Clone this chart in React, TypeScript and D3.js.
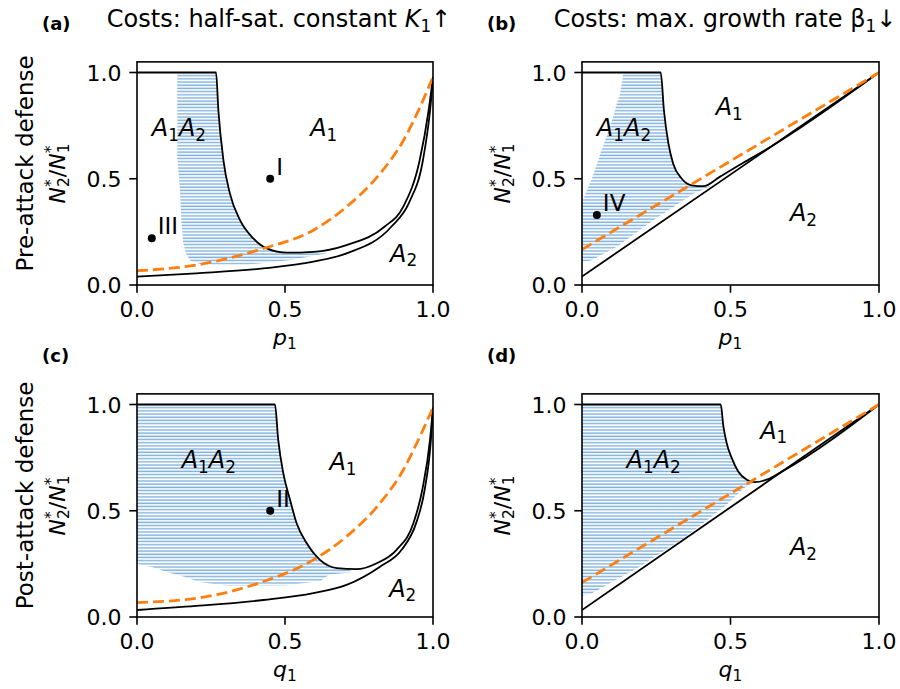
import React from 'react';
import * as d3 from 'd3';

type Pt = [number, number];

// (a) pre-attack defense, cost in half-saturation constant K1
const upperA: Pt[] = [[0, 1], [0.267, 1], [0.275, 0.82], [0.292, 0.587], [0.314, 0.43], [0.348, 0.305], [0.393, 0.219], [0.438, 0.172], [0.506, 0.152], [0.596, 0.156], [0.708, 0.188], [0.836, 0.274], [0.9, 0.37], [0.955, 0.587], [0.985, 0.82], [1, 0.98]];
const lowerA: Pt[] = [[0, 0.039], [0.2, 0.055], [0.427, 0.078], [0.596, 0.11], [0.708, 0.149], [0.859, 0.274], [0.92, 0.39], [0.966, 0.587], [0.99, 0.82], [1, 0.97]];
const orangeA: Pt[] = [[0, 0.067], [0.2, 0.094], [0.427, 0.172], [0.596, 0.258], [0.708, 0.368], [0.821, 0.524], [0.9, 0.68], [0.956, 0.837], [1, 0.98]];
const regionA: Pt[] = [[0.136, 1], [0.267, 1], [0.275, 0.82], [0.292, 0.587], [0.314, 0.43], [0.348, 0.305], [0.393, 0.219], [0.438, 0.172], [0.506, 0.155], [0.6, 0.158], [0.64, 0.156], [0.64, 0.148], [0.596, 0.138], [0.52, 0.118], [0.375, 0.096], [0.218, 0.096], [0.18, 0.115], [0.165, 0.15], [0.156, 0.2], [0.15, 0.3], [0.145, 0.45], [0.136, 0.6]];

// (b) pre-attack defense, cost in max growth rate beta1
const upperB: Pt[] = [[0, 1], [0.265, 1], [0.276, 0.82], [0.291, 0.665], [0.307, 0.571], [0.336, 0.5], [0.369, 0.469], [0.408, 0.465], [0.465, 0.51], [0.543, 0.575], [0.62, 0.637], [1, 1]];
const lowerB: Pt[] = [[0, 0.04], [1, 1]];
const orangeB: Pt[] = [[0, 0.167], [1, 1]];
const regionB: Pt[] = [[0.14, 1], [0.265, 1], [0.276, 0.82], [0.291, 0.665], [0.307, 0.571], [0.336, 0.5], [0.369, 0.469], [0.408, 0.462], [0.44, 0.47], [0.375, 0.43], [0.24, 0.305], [0.117, 0.18], [0.03, 0.115], [0, 0.11], [0, 0.39], [0.033, 0.5], [0.066, 0.634], [0.094, 0.743], [0.128, 0.9]];

// (c) post-attack defense, cost in K1
const upperC: Pt[] = [[0, 1], [0.466, 1], [0.477, 0.835], [0.494, 0.678], [0.517, 0.552], [0.539, 0.442], [0.573, 0.348], [0.618, 0.269], [0.675, 0.23], [0.742, 0.225], [0.81, 0.253], [0.877, 0.316], [0.934, 0.442], [0.964, 0.6], [0.99, 0.835], [1, 0.985]];
const lowerC: Pt[] = [[0, 0.033], [0.2, 0.052], [0.427, 0.08], [0.596, 0.112], [0.708, 0.151], [0.821, 0.237], [0.894, 0.316], [0.945, 0.45], [0.972, 0.6], [0.993, 0.835], [1, 0.985]];
const orangeC: Pt[] = [[0, 0.068], [0.2, 0.088], [0.427, 0.167], [0.596, 0.269], [0.708, 0.379], [0.821, 0.536], [0.9, 0.693], [0.956, 0.85], [1, 0.985]];
const regionC: Pt[] = [[0, 1], [0.466, 1], [0.477, 0.835], [0.494, 0.678], [0.517, 0.552], [0.539, 0.442], [0.573, 0.348], [0.618, 0.269], [0.675, 0.23], [0.72, 0.225], [0.72, 0.21], [0.65, 0.2], [0.62, 0.17], [0.5, 0.148], [0.3, 0.148], [0.21, 0.165], [0.16, 0.19], [0.1, 0.212], [0.05, 0.235], [0, 0.25]];

// (d) post-attack defense, cost in beta1
const upperD: Pt[] = [[0, 1], [0.467, 1], [0.476, 0.898], [0.487, 0.819], [0.504, 0.749], [0.526, 0.685], [0.555, 0.646], [0.582, 0.635], [0.622, 0.646], [0.68, 0.69], [1, 1]];
const lowerD: Pt[] = [[0, 0.033], [1, 1]];
const orangeD: Pt[] = [[0, 0.162], [1, 1]];
const regionD: Pt[] = [[0, 1], [0.467, 1], [0.476, 0.898], [0.487, 0.819], [0.504, 0.749], [0.526, 0.685], [0.555, 0.646], [0.582, 0.635], [0.55, 0.612], [0.48, 0.52], [0.341, 0.37], [0.184, 0.228], [0.03, 0.11], [0, 0.1]];

const ticks = [0, 0.5, 1];

// region labels: [x, y, text]  (A1A2 / A1 / A2)
const regionLabelsA: [number, number, string][] = [[0.05, 0.7, '12'], [0.585, 0.7, '1'], [0.855, 0.11, '2']];
const regionLabelsB: [number, number, string][] = [[0.05, 0.7, '12'], [0.45, 0.8, '1'], [0.7, 0.3, '2']];
const regionLabelsC: [number, number, string][] = [[0.151, 0.7, '12'], [0.65, 0.69, '1'], [0.852, 0.096, '2']];
const regionLabelsD: [number, number, string][] = [[0.15, 0.7, '12'], [0.6, 0.84, '1'], [0.7, 0.29, '2']];

// example points
const pointsA: [number, number, string][] = [[0.45, 0.5, 'I'], [0.05, 0.22, 'III']];
const pointsB: [number, number, string][] = [[0.05, 0.33, 'IV']];
const pointsC: [number, number, string][] = [[0.45, 0.5, 'II']];
const pointsD: [number, number, string][] = [];

const FONT = "'DejaVu Sans', sans-serif";

type Part = { t: string; it?: boolean; sub?: boolean; sup?: boolean; back?: number };

function MathText({ parts, size }: { parts: Part[]; size: number }) {
  let cur = 0;
  return (
    <>
      {parts.map((p, i) => {
        const target = p.sub ? 0.2 * size : p.sup ? -0.4 * size : 0;
        const dy = target - cur;
        cur = target;
        return (
          <tspan
            key={i}
            dy={dy}
            dx={p.back ? -p.back : 0}
            fontStyle={p.it ? 'italic' : 'normal'}
            fontSize={p.sub || p.sup ? size * 0.7 : size}
          >
            {p.t}
          </tspan>
        );
      })}
    </>
  );
}

const yLabelParts: Part[] = [
  { t: 'N', it: true },
  { t: '*', sup: true },
  { t: '2', sub: true, back: 7.7 },
  { t: '/' },
  { t: 'N', it: true },
  { t: '*', sup: true },
  { t: '1', sub: true, back: 7.7 },
];

function regionParts(code: string): Part[] {
  return code.split('').flatMap(c => [{ t: 'A', it: true }, { t: c, sub: true }]);
}

interface PanelProps {
  id: string;
  left: number;
  right: number;
  bottom: number;
  upper: Pt[];
  lower: Pt[];
  orange: Pt[];
  region: Pt[];
  regionLabels: [number, number, string][];
  points: [number, number, string][];
  xVar: string;
  tag: string;
  title?: Part[];
  titleX: number;
  rowLabel?: string;
}

const Panel: React.FC<PanelProps> = p => {
  const x = d3.scaleLinear().domain([0, 1]).range([p.left, p.right]);
  const y = d3.scaleLinear().domain([0, 1]).range([p.bottom, p.bottom - 212.5]);
  const top = y(1.05);
  const line = d3.line<Pt>().x(d => x(d[0])).y(d => y(d[1])).curve(d3.curveMonotoneX);
  const straight = d3.line<Pt>().x(d => x(d[0])).y(d => y(d[1])).curve(d3.curveLinearClosed);
  const rowStep = y(0) - y(0.015);
  const midY = (top + p.bottom) / 2;
  return (
    <g>
      <defs>
        <clipPath id={`clip-${p.id}`}>
          <rect x={p.left} y={top} width={p.right - p.left} height={p.bottom - top} />
        </clipPath>
        <pattern id={`dots-${p.id}`} patternUnits="userSpaceOnUse" x={p.left} y={y(0)} width={2} height={rowStep}>
          <circle cx={1} cy={1} r={0.9} fill="#5f9dd3" />
        </pattern>
      </defs>
      <g clipPath={`url(#clip-${p.id})`}>
        <path d={straight(p.region) ?? ''} fill={`url(#dots-${p.id})`} />
        <path d={line(p.lower) ?? ''} fill="none" stroke="#000" strokeWidth={1.8} />
        <path d={line(p.upper) ?? ''} fill="none" stroke="#000" strokeWidth={1.8} />
        <path d={line(p.orange) ?? ''} fill="none" stroke="#ff7f0e" strokeWidth={2.8} strokeDasharray="11,5" />
      </g>
      {p.points.map(([px, py, name]) => (
        <g key={name}>
          <circle cx={x(px)} cy={y(py)} r={4} fill="#000" />
          <text x={x(px) + 6} y={y(py) - 4} fontSize={23} fontFamily={FONT}>{name}</text>
        </g>
      ))}
      {p.regionLabels.map(([lx, ly, code]) => (
        <text key={code} x={x(lx)} y={y(ly)} fontSize={24} fontFamily={FONT}>
          <MathText parts={regionParts(code)} size={24} />
        </text>
      ))}
      <rect x={p.left} y={top} width={p.right - p.left} height={p.bottom - top} fill="none" stroke="#000" strokeWidth={1.6} />
      {ticks.map(t => (
        <g key={`y${t}`}>
          <line x1={p.left - 7.7} x2={p.left} y1={y(t)} y2={y(t)} stroke="#000" strokeWidth={1.6} />
          <text x={p.left - 15.4} y={y(t) + 8} textAnchor="end" fontSize={22} fontFamily={FONT}>{t.toFixed(1)}</text>
          <line x1={x(t)} x2={x(t)} y1={p.bottom} y2={p.bottom + 7.7} stroke="#000" strokeWidth={1.6} />
          <text x={x(t)} y={p.bottom + 32} textAnchor="middle" fontSize={22} fontFamily={FONT}>{t.toFixed(1)}</text>
        </g>
      ))}
      <text x={(p.left + p.right) / 2} y={p.bottom + 60} textAnchor="middle" fontSize={22} fontFamily={FONT}>
        <MathText parts={[{ t: p.xVar, it: true }, { t: '1', sub: true }]} size={22} />
      </text>
      <text transform={`translate(${p.left - 72},${midY}) rotate(-90)`} textAnchor="middle" fontSize={22} fontFamily={FONT}>
        <MathText parts={yLabelParts} size={22} />
      </text>
      {p.rowLabel && (
        <text transform={`translate(${p.left - 104},${midY - 10}) rotate(-90)`} textAnchor="middle" fontSize={23} fontFamily={FONT}>
          {p.rowLabel}
        </text>
      )}
      <text x={p.left - 95} y={top - 32} fontSize={18} fontWeight="bold" fontFamily={FONT}>{p.tag}</text>
      {p.title && (
        <text x={p.titleX} y={27} textAnchor="middle" fontSize={24} fontFamily={FONT}>
          <MathText parts={p.title} size={24} />
        </text>
      )}
    </g>
  );
};

const titleA: Part[] = [{ t: 'Costs: half-sat. constant ' }, { t: 'K', it: true }, { t: '1', sub: true }, { t: '↑' }];
const titleB: Part[] = [{ t: 'Costs: max. growth rate β' }, { t: '1', sub: true }, { t: '↓' }];

export default function App() {
  return (
    <svg width={900} height={689} style={{ position: 'absolute', left: 0, top: 0, background: '#fff' }}>
      <rect width={900} height={689} fill="#fff" />
      <Panel id="a" left={137} right={433} bottom={285} upper={upperA} lower={lowerA} orange={orangeA} region={regionA}
        regionLabels={regionLabelsA} points={pointsA} xVar="p" tag="(a)" title={titleA} titleX={279} rowLabel="Pre-attack defense" />
      <Panel id="b" left={582} right={879} bottom={285} upper={upperB} lower={lowerB} orange={orangeB} region={regionB}
        regionLabels={regionLabelsB} points={pointsB} xVar="p" tag="(b)" title={titleB} titleX={725} />
      <Panel id="c" left={137} right={433} bottom={617} upper={upperC} lower={lowerC} orange={orangeC} region={regionC}
        regionLabels={regionLabelsC} points={pointsC} xVar="q" tag="(c)" titleX={0} rowLabel="Post-attack defense" />
      <Panel id="d" left={582} right={879} bottom={617} upper={upperD} lower={lowerD} orange={orangeD} region={regionD}
        regionLabels={regionLabelsD} points={pointsD} xVar="q" tag="(d)" titleX={0} />
    </svg>
  );
}
